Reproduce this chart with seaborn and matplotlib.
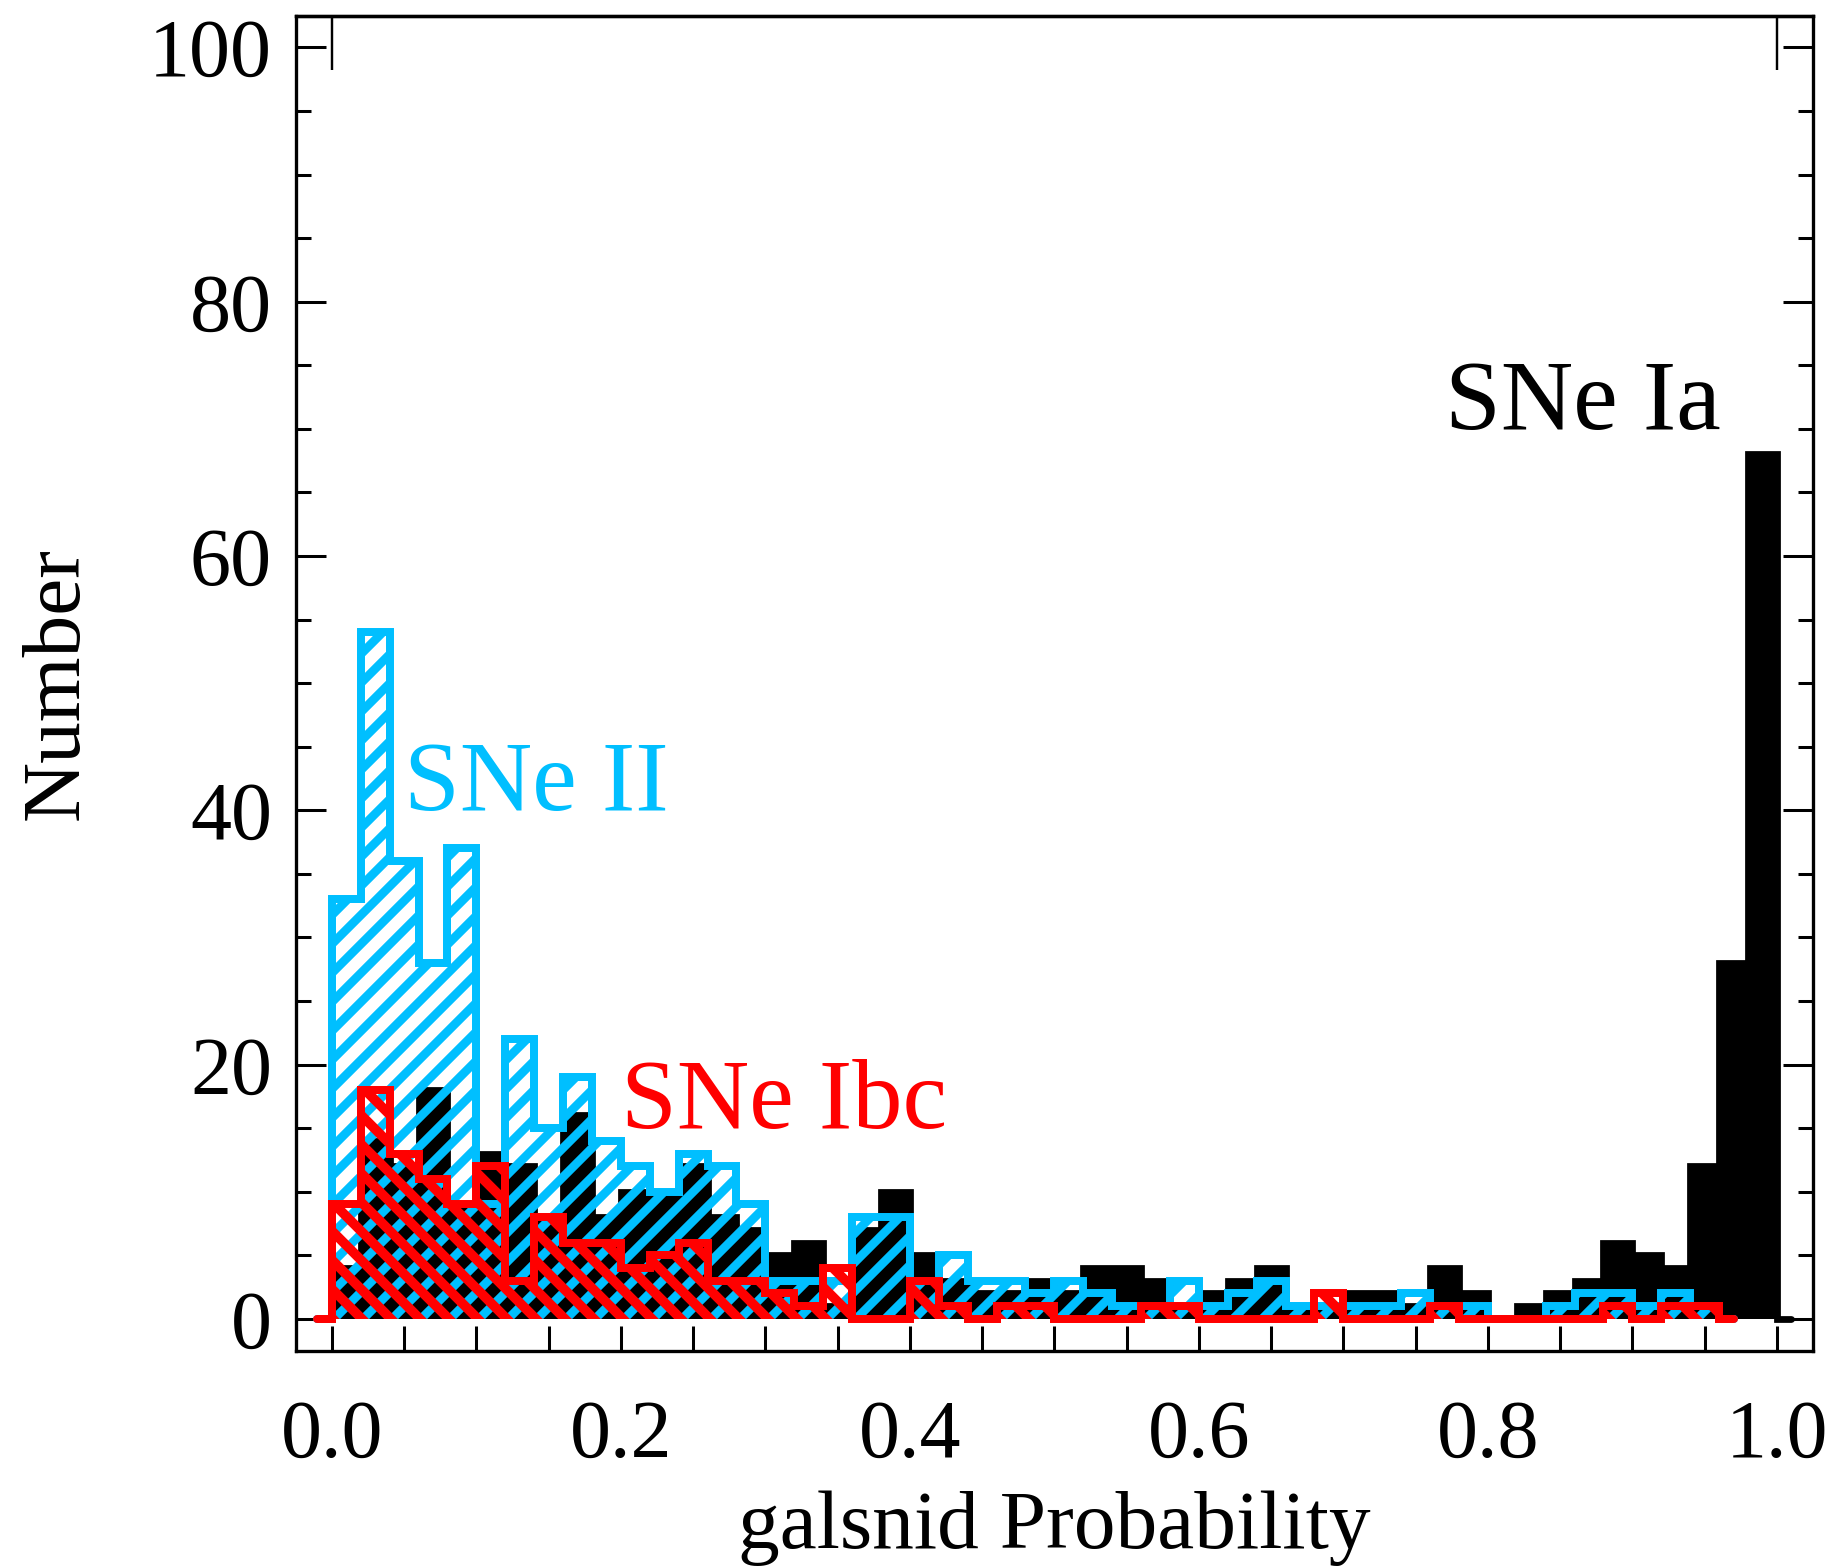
import numpy as np
import pandas as pd
import matplotlib
matplotlib.use("Agg")
import matplotlib.pyplot as plt
from matplotlib.ticker import MultipleLocator, FormatStrFormatter
import seaborn as sns

# galsnid probability histograms: 50 bins of width 0.02 covering [0, 1]
bin_width = 0.02
bin_lower = np.round(np.arange(0.0, 1.0, bin_width), 2)

counts_ia = [4, 14, 12, 18, 9, 13, 12, 8, 16, 8,
             10, 10, 12, 8, 7, 5, 6, 1, 7, 10,
             5, 3, 2, 2, 3, 2, 4, 4, 3, 1,
             2, 3, 4, 1, 1, 2, 2, 1, 4, 2,
             0, 1, 2, 3, 6, 5, 4, 12, 28, 68]

counts_ii = [33, 54, 36, 28, 37, 9, 22, 15, 19, 14,
             12, 10, 13, 12, 9, 3, 3, 3, 8, 8,
             3, 5, 3, 3, 2, 3, 2, 1, 1, 3,
             1, 2, 3, 1, 1, 1, 1, 2, 1, 1,
             0, 0, 1, 2, 2, 1, 2, 1, 0, 0]

counts_ibc = [9, 18, 13, 11, 9, 12, 3, 8, 6, 6,
              4, 5, 6, 3, 3, 2, 1, 4, 0, 0,
              3, 1, 0, 1, 1, 0, 0, 0, 1, 1,
              0, 0, 0, 0, 2, 0, 0, 0, 1, 0,
              0, 0, 0, 0, 1, 0, 1, 1, 0, 0]

labels = ["SNe Ia", "SNe II", "SNe Ibc"]
label_x = [0.77, 0.05, 0.20]
label_y = [70, 40, 15]

x_ticks = [0.0, 0.2, 0.4, 0.6, 0.8, 1.0]
y_ticks = [0, 20, 40, 60, 80, 100]

BLACK = "#000000"
CYAN = "#00BFFF"
RED = "#FF0000"


def padded(counts):
    """Counts per bin with a half-width empty bin on either side of the data range."""
    counts = np.asarray(counts, dtype=float)
    last = np.nonzero(counts)[0].max() + 1
    lo = bin_lower[:last]
    edges = np.concatenate([[-bin_width / 2], lo,
                            [lo[-1] + bin_width, lo[-1] + 1.5 * bin_width]])
    centers = (edges[:-1] + edges[1:]) / 2
    weights = np.concatenate([[0.0], counts[:last], [0.0]])
    return pd.DataFrame({"p": centers, "n": weights}), [float(e) for e in edges]


sns.set_style("ticks")
plt.rcParams["font.family"] = ["Liberation Serif", "DejaVu Serif"]
plt.rcParams["axes.linewidth"] = 1.37
for key in ["text.color", "axes.labelcolor", "xtick.color", "ytick.color",
            "xtick.labelcolor", "ytick.labelcolor", "axes.edgecolor"]:
    plt.rcParams[key] = BLACK

DPI = 174
fig = plt.figure(figsize=(1837 / DPI, 1568 / DPI), dpi=DPI)
ax = fig.add_axes([0.16097, 0.13858, 0.82597, 0.85140])

# SNe Ia: solid black bars plus their step outline
ia_df, ia_edges = padded(counts_ia)
sns.histplot(data=ia_df, x="p", weights="n", bins=ia_edges, element="bars",
             fill=True, color=BLACK, alpha=1, linewidth=0, ax=ax, zorder=1.0)
sns.histplot(data=ia_df, x="p", weights="n", bins=ia_edges, element="step",
             fill=False, color=BLACK, linewidth=2.8, ax=ax, zorder=1.1,
             solid_joinstyle="miter")

# SNe II and SNe Ibc: hatched step histograms
hatched = [(counts_ii, CYAN, "//", 3.6, 3.3, 1.2),
           (counts_ibc, RED, "\\\\", 4.0, 3.3, 1.4)]
for counts, color, hatch, hatch_lw, line_lw, z in hatched:
    df, edges = padded(counts)
    plt.rcParams["hatch.linewidth"] = hatch_lw
    sns.histplot(data=df, x="p", weights="n", bins=edges, element="step",
                 fill=True, color=color, facecolor="none", edgecolor=color,
                 hatch=hatch, linewidth=0, ax=ax, zorder=z)
    sns.histplot(data=df, x="p", weights="n", bins=edges, element="step",
                 fill=False, color=color, linewidth=line_lw, ax=ax,
                 zorder=z + 0.1, solid_joinstyle="miter")

ax.set_xlim(-0.025, 1.025)
ax.set_ylim(-2.5, 102.5)

ax.set_xticks(x_ticks)
ax.set_yticks(y_ticks)
ax.xaxis.set_minor_locator(MultipleLocator(0.05))
ax.yaxis.set_minor_locator(MultipleLocator(5))
ax.xaxis.set_major_formatter(FormatStrFormatter("%.1f"))
ax.yaxis.set_major_formatter(FormatStrFormatter("%d"))

ax.tick_params(axis="x", which="both", direction="in", length=10.3, width=1.25,
               bottom=True, top=False, labelsize=34, pad=20, color=BLACK,
               labelcolor=BLACK)
ax.tick_params(axis="y", which="major", direction="in", length=12.4, width=1.25,
               left=True, right=True, labelsize=34, pad=9.8, color=BLACK,
               labelcolor=BLACK)
ax.tick_params(axis="y", which="minor", direction="in", length=6.2, width=1.25,
               left=True, right=True, color=BLACK)

top = ax.secondary_xaxis("top")
top.set_xticks([0.0, 1.0])
top.tick_params(axis="x", which="major", direction="in", length=22.3,
                width=1.0, labeltop=False, color=BLACK)
top.spines["top"].set_linewidth(1.37)
top.spines["top"].set_color(BLACK)

for side in ["left", "right", "top", "bottom"]:
    ax.spines[side].set_visible(True)
    ax.spines[side].set_color(BLACK)
    ax.spines[side].set_linewidth(1.37)

ax.set_xlabel("galsnid Probability", fontsize=34.5, color=BLACK)
ax.xaxis.label.set_va("baseline")
ax.xaxis.set_label_coords(0.5, -0.1478)
ax.set_ylabel("Number", fontsize=34.5, color=BLACK)
ax.yaxis.label.set_va("baseline")
ax.yaxis.set_label_coords(-0.1435, 0.5)

for text, x, y, color in zip(labels, label_x, label_y, [BLACK, CYAN, RED]):
    ax.text(x, y, text, color=color, fontsize=41.5, ha="left", va="baseline",
            zorder=3)

fig.savefig("out.png", dpi=DPI)
